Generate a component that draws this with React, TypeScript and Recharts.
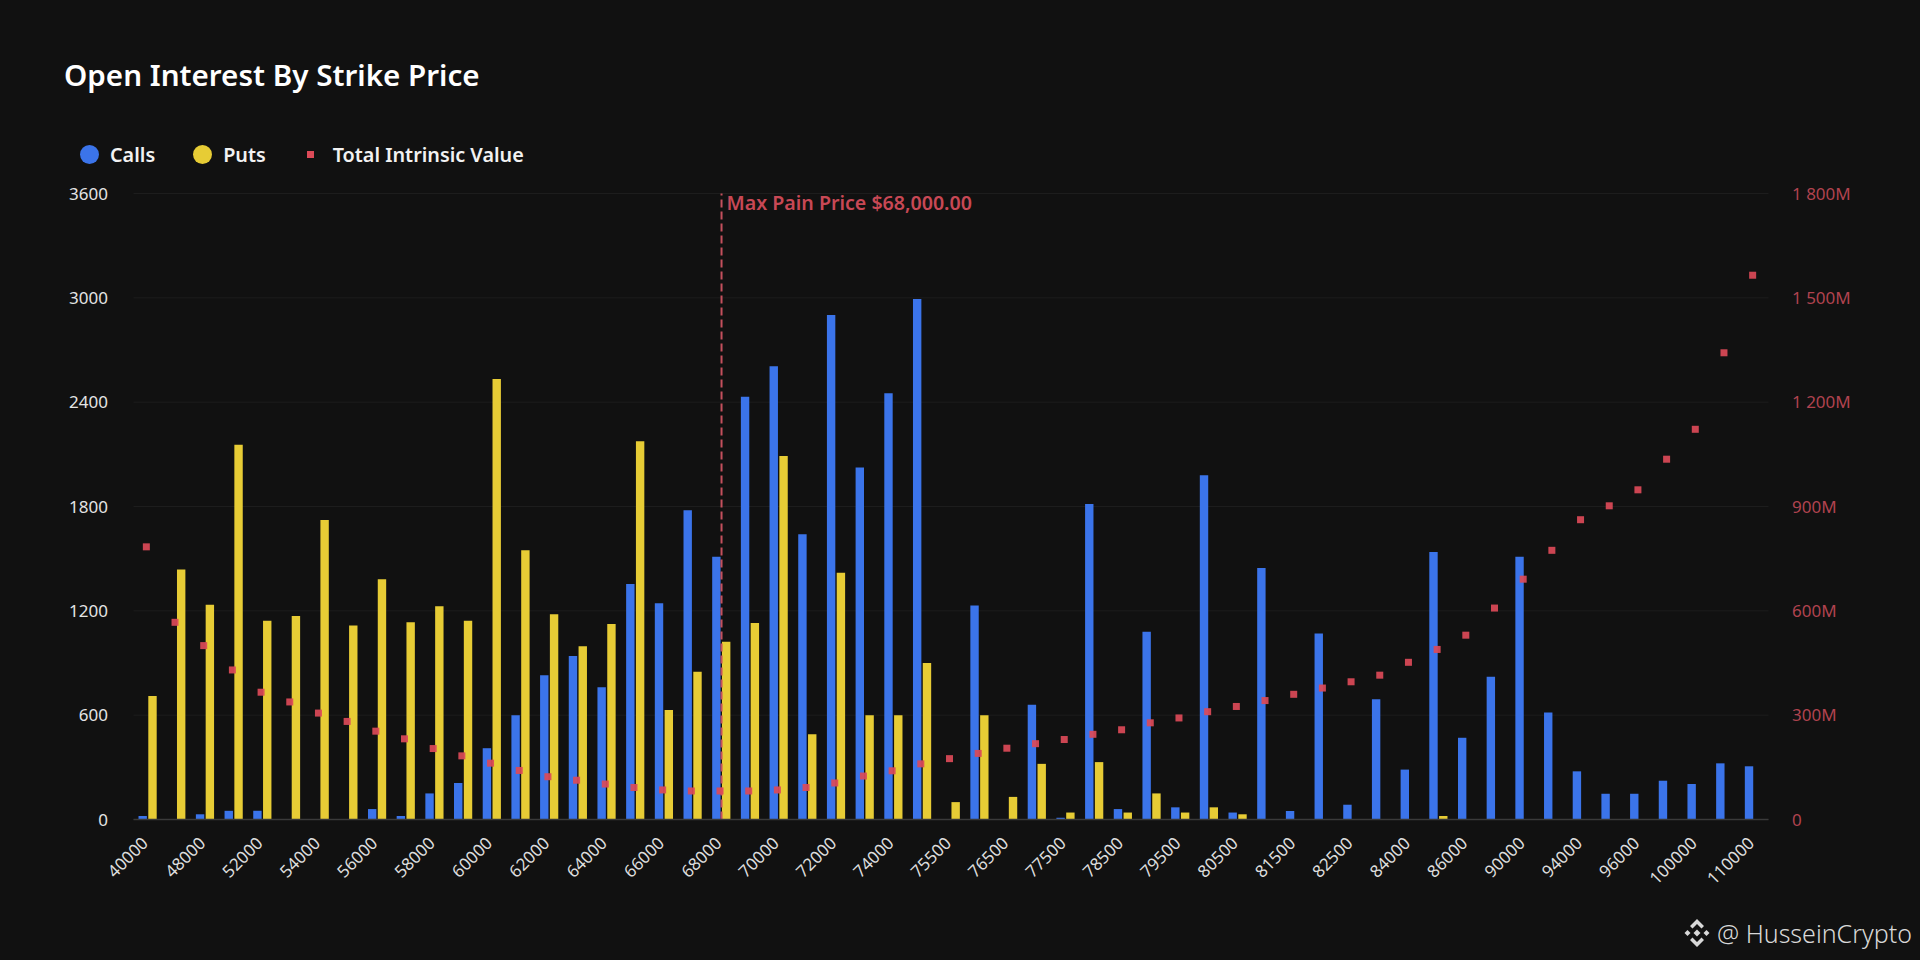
import React from "react";
import { ComposedChart, Bar, Line, XAxis, YAxis, CartesianGrid, Legend, ReferenceLine } from "recharts";

const strikes = [40000,44000,48000,50000,52000,53000,54000,55000,56000,57000,58000,59000,60000,61000,62000,63000,64000,65000,66000,67000,68000,69000,70000,71000,72000,73000,74000,75000,75500,76000,76500,77000,77500,78000,78500,79000,79500,80000,80500,81000,81500,82000,82500,83000,84000,85000,86000,88000,90000,92000,94000,95000,96000,98000,100000,105000,110000];
const calls = [20,0,30,50,50,0,0,0,60,20,150,210,410,600,830,940,760,1354,1243,1778,1511,2431,2606,1640,2901,2025,2451,2993,0,1230,0,660,10,1814,60,1080,70,1980,40,1446,49,1069,85,691,287,1538,470,821,1511,616,277,148,148,223,204,323,306];
const puts = [710,1438,1235,2155,1143,1170,1722,1115,1381,1134,1226,1143,2533,1548,1180,996,1124,2175,630,850,1022,1130,2090,490,1419,600,600,900,100,600,130,320,40,330,40,150,40,70,30,0,0,0,0,0,0,20,0,0,0,0,0,0,0,0,0,0,0];
const intrinsic = [784,567,500,430,366,338,306,282,254,232,204,183,162,141,123,113,102,92,85,82,82,82,85,92,105,125,140,160,175,190,205,218,230,245,258,278,292,310,325,342,360,378,396,415,452,489,530,608,691,774,862,902,948,1036,1122,1342,1565];
const leftTicks = [0,600,1200,1800,2400,3000,3600];
const rightTicks = [0,300,600,900,1200,1500,1800];
const rightLabels = ["0","300M","600M","900M","1 200M","1 500M","1 800M"];
const maxPain = "68000";
const maxPainLabel = "Max Pain Price $68,000.00";
const title = "Open Interest By Strike Price";
const watermark = "@ HusseinCrypto";

const data = strikes.map((s, i) => ({ strike: String(s), Calls: calls[i], Puts: puts[i], "Total Intrinsic Value": intrinsic[i] }));

const FONT = "'Noto Sans', sans-serif";
const BLUE = "#3b74ea";
const YELLOW = "#e7cc35";
const RED = "#dc4a58";
const legendItems = [
  { name: "Calls", color: BLUE, kind: "circle", gap: 38 },
  { name: "Puts", color: YELLOW, kind: "circle", gap: 38 },
  { name: "Total Intrinsic Value", color: RED, kind: "square", gap: 0 },
];

const SquareDot = (props: any) => {
  const { cx, cy, index } = props;
  if (cx == null || cy == null) return <g key={index} />;
  return <rect key={index} x={cx - 5} y={cy - 3.5} width={7} height={7} fill={RED} fillOpacity={0.92} />;
};

const XTick = (props: any) => {
  const { x, y, payload } = props;
  const tx = x - 7.5;
  const ty = y + 2;
  return (
    <text x={tx} y={ty} dy={12.5} textAnchor="end" fill="#dddddd" fontSize={17} fontFamily={FONT} transform={`rotate(-45, ${tx}, ${ty})`}>
      {payload.value}
    </text>
  );
};

const LegendContent = () => (
  <div style={{ display: "flex", alignItems: "center", height: 40, fontFamily: FONT, fontWeight: 600, fontSize: 19.8, color: "#f2f2f2" }}>
    {legendItems.map((it) => (
      <div key={it.name} style={{ display: "flex", alignItems: "center", marginRight: it.gap }}>
        {it.kind === "circle" ? (
          <span style={{ width: 19, height: 19, borderRadius: 10, background: it.color, marginRight: 11 }} />
        ) : (
          <span style={{ width: 7, height: 7, background: it.color, marginLeft: 3.5, marginRight: 18.5 }} />
        )}
        <span>{it.name}</span>
      </div>
    ))}
  </div>
);

export default function App() {
  return (
    <div style={{ position: "absolute", left: 0, top: 0, width: 1920, height: 960, background: "#111111", overflow: "hidden", fontFamily: FONT }}>
      <style>{"body{margin:0;background:#111111}"}</style>
      <div style={{ position: "absolute", left: 64, top: 55, fontSize: 29.6, fontWeight: 600, color: "#ffffff", lineHeight: "40px" }}>{title}</div>
      <ComposedChart
        width={1920}
        height={960}
        data={data}
        barSize={8.4}
        barGap={1.4}
        margin={{ top: 153.5, right: 71.5, bottom: 80.5, left: 73.5 }}
      >
        <CartesianGrid vertical={false} stroke="#1d1d1d" yAxisId="left" />
        <ReferenceLine
          yAxisId="left"
          x={maxPain}
          stroke="#c4505d"
          strokeWidth={2}
          strokeDasharray="8 4"
          label={{ value: maxPainLabel, position: "insideTopLeft", fill: "#c84855", fontSize: 19.6, fontWeight: 600, fontFamily: FONT, offset: 0, dx: 5, dy: 3 }}
        />
        <XAxis
          dataKey="strike"
          interval={1}
          height={60}
          tickLine={false}
          axisLine={{ stroke: "#3a3a3a", strokeWidth: 1.5 }}
          tick={<XTick />}
          tickMargin={8}
        />
        <YAxis
          yAxisId="left"
          width={60}
          domain={[0, 3600]}
          ticks={leftTicks}
          tickLine={false}
          axisLine={false}
          tick={{ fill: "#e4e4e4", fontSize: 17, fontFamily: FONT }}
          tickMargin={19.5}
        />
        <YAxis
          yAxisId="right"
          orientation="right"
          width={80}
          domain={[0, 1800]}
          ticks={rightTicks}
          tickFormatter={(v: number) => rightLabels[rightTicks.indexOf(v)]}
          tickLine={false}
          axisLine={false}
          tick={{ fill: "#b0434f", fontSize: 17, fontFamily: FONT }}
          tickMargin={17.5}
        />
        <Legend
          verticalAlign="top"
          align="left"
          content={<LegendContent />}
          wrapperStyle={{ top: 134, left: 80, width: 700, height: 40 }}
        />
        <Bar yAxisId="left" dataKey="Calls" fill={BLUE} isAnimationActive={false} />
        <Bar yAxisId="left" dataKey="Puts" fill={YELLOW} isAnimationActive={false} />
        <Line
          yAxisId="right"
          dataKey="Total Intrinsic Value"
          stroke="none"
          dot={SquareDot}
          activeDot={false}
          isAnimationActive={false}
        />
      </ComposedChart>
      <div style={{ position: "absolute", right: 8, top: 915, display: "flex", alignItems: "center", color: "#d8d8d8", fontSize: 25, lineHeight: "36px", fontWeight: 300 }}>
        <svg width={28} height={32} viewBox="0 0 28 32" style={{ marginRight: 6 }}>
          <g fill="#d8d8d8" transform="translate(14 16)">
            <path d="M0 -14 L7 -7 L4.5 -4.5 L0 -9 L-4.5 -4.5 L-7 -7 Z" />
            <path d="M0 14 L7 7 L4.5 4.5 L0 9 L-4.5 4.5 L-7 7 Z" />
            <path d="M0 -3.5 L3.5 0 L0 3.5 L-3.5 0 Z" />
            <path d="M-9.5 -3 L-6.5 0 L-9.5 3 L-12.5 0 Z" />
            <path d="M9.5 -3 L12.5 0 L9.5 3 L6.5 0 Z" />
          </g>
        </svg>
        <span>{watermark}</span>
      </div>
    </div>
  );
}
